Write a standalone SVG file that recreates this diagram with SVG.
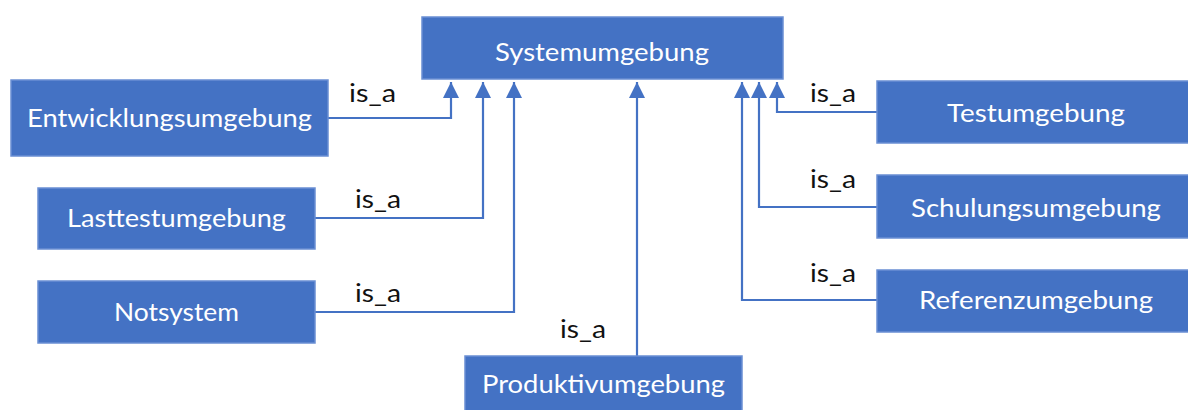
<svg xmlns="http://www.w3.org/2000/svg" width="1188" height="410" viewBox="0 0 1188 410">
  <style>
    .box { fill: #4472C4; stroke: #6A8FD3; stroke-width: 1.5; }
    .lbl { font-family: Lato, "Open Sans", "Liberation Sans", sans-serif; font-size: 25px; fill: #FFFFFF; text-anchor: middle; }
    .rel { font-family: Lato, "Open Sans", "Liberation Sans", sans-serif; font-size: 25px; fill: #111111; }
    .edge { fill: none; stroke: #4472C4; stroke-width: 2.2; marker-end: url(#tri); }
  </style>
  <defs>
    <marker id="tri" markerUnits="userSpaceOnUse" markerWidth="16" markerHeight="16" viewBox="0 0 16 16" refX="16" refY="8" orient="auto">
      <path d="M0,0 L16,8 L0,16 Z" fill="#4472C4"/>
    </marker>
  </defs>

  <rect width="1188" height="410" fill="#FFFFFF"/>

  <!-- inheritance connectors -->
  <g id="connectors">
    <path class="edge" d="M328,118 H451 V82"/>
    <path class="edge" d="M315,218 H483 V82"/>
    <path class="edge" d="M315,312 H514 V82"/>
    <path class="edge" d="M637,356 V82"/>
    <path class="edge" d="M877,112 H777 V82"/>
    <path class="edge" d="M877,207 H759 V82"/>
    <path class="edge" d="M877,300 H742 V82"/>
    <text class="rel" x="349" y="102" textLength="47" lengthAdjust="spacingAndGlyphs">is_a</text>
    <text class="rel" x="355" y="208" textLength="46" lengthAdjust="spacingAndGlyphs">is_a</text>
    <text class="rel" x="355" y="302" textLength="46" lengthAdjust="spacingAndGlyphs">is_a</text>
    <text class="rel" x="560" y="338" textLength="46" lengthAdjust="spacingAndGlyphs">is_a</text>
    <text class="rel" x="810" y="102" textLength="46" lengthAdjust="spacingAndGlyphs">is_a</text>
    <text class="rel" x="810" y="188" textLength="46" lengthAdjust="spacingAndGlyphs">is_a</text>
    <text class="rel" x="810" y="282" textLength="46" lengthAdjust="spacingAndGlyphs">is_a</text>
  </g>

  <g id="systemumgebung">
    <rect class="box" x="422" y="17" width="361" height="62"/>
    <text class="lbl" x="602" y="61" textLength="214" lengthAdjust="spacingAndGlyphs">Systemumgebung</text>
  </g>
  <g id="entwicklungsumgebung">
    <rect class="box" x="11" y="80" width="317" height="76"/>
    <text class="lbl" x="169.5" y="127" textLength="285" lengthAdjust="spacingAndGlyphs">Entwicklungsumgebung</text>
  </g>
  <g id="lasttestumgebung">
    <rect class="box" x="38" y="188" width="277" height="61"/>
    <text class="lbl" x="176.5" y="227" textLength="219" lengthAdjust="spacingAndGlyphs">Lasttestumgebung</text>
  </g>
  <g id="notsystem">
    <rect class="box" x="38" y="281" width="277" height="62"/>
    <text class="lbl" x="176.5" y="321" textLength="125" lengthAdjust="spacingAndGlyphs">Notsystem</text>
  </g>
  <g id="produktivumgebung">
    <rect class="box" x="465" y="356" width="277" height="60"/>
    <text class="lbl" x="603.5" y="393" textLength="243" lengthAdjust="spacingAndGlyphs">Produktivumgebung</text>
  </g>
  <g id="testumgebung">
    <rect class="box" x="877" y="81" width="318" height="62"/>
    <text class="lbl" x="1036" y="122" textLength="178" lengthAdjust="spacingAndGlyphs">Testumgebung</text>
  </g>
  <g id="schulungsumgebung">
    <rect class="box" x="877" y="175" width="318" height="63"/>
    <text class="lbl" x="1036" y="217" textLength="250" lengthAdjust="spacingAndGlyphs">Schulungsumgebung</text>
  </g>
  <g id="referenzumgebung">
    <rect class="box" x="877" y="270" width="318" height="62"/>
    <text class="lbl" x="1036" y="309" textLength="234" lengthAdjust="spacingAndGlyphs">Referenzumgebung</text>
  </g>
</svg>
